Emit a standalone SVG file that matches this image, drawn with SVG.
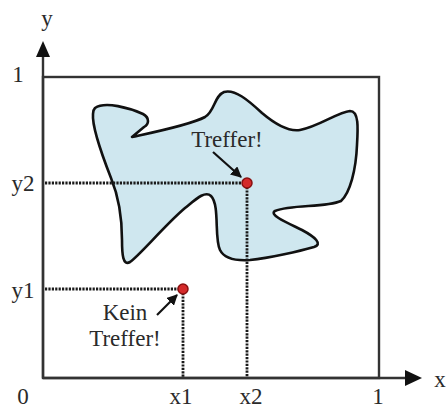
<svg xmlns="http://www.w3.org/2000/svg" width="446" height="410" viewBox="0 0 446 410">
<style>
text{font-family:'Times New Roman','Liberation Serif',serif;fill:#2a2a2a;font-size:23px}
.ax{stroke:#333;stroke-width:2.4;fill:none}
.dot{stroke:#1a1a1a;stroke-width:2.8;stroke-dasharray:2.2 1.2;fill:none}
.pt{fill:#d42a2a;stroke:#8a1010;stroke-width:1.5}
.ar{stroke:#111;stroke-width:2.2;fill:none}
</style>
<defs>
<marker id="ah" viewBox="0 0 10 10" refX="9" refY="5" markerWidth="5" markerHeight="5" orient="auto">
<path d="M0,0 L10,5 L0,10 Z" fill="#111"/>
</marker>
</defs>
<rect x="0" y="0" width="446" height="410" fill="#fff"/>
<g id="area">
<path d="M 95,108 C 105,101 130,108 143,114 C 150,118 149,124 144,127 L 132,137 C 155,132 190,125 205,117 C 215,111 214,96 224,92 C 235,89 248,100 262,113 C 275,124 288,132 300,130 C 318,127 338,112 350,111 C 359,111 358,128 357,145 C 356,170 350,193 341,201 C 325,208 292,204 275,211 C 268,215 290,224 302,230 C 315,237 323,244 314,247 C 300,251 270,258 250,260 C 235,261 224,258 220,250 C 214,238 220,205 211,196 C 205,190 195,200 185,208 C 165,225 140,255 130,262 C 123,266 122,255 122,240 C 122,215 118,195 111,178 C 102,155 92,125 93,114 C 93,110 94,109 95,108 Z" fill="#cfe7ef" stroke="#111" stroke-width="2.6" stroke-linejoin="round"/>
</g>
<g id="axes">
<rect x="43" y="77" width="336" height="301" class="ax"/>
<line x1="43" y1="378" x2="43" y2="56" class="ax"/>
<path d="M43,41 L50,57 L36,57 Z" fill="#111"/>
<line x1="43" y1="378" x2="406" y2="378" class="ax"/>
<path d="M422,378 L405,370 L405,386 Z" fill="#111"/>
</g>
<g id="connectors">
<line x1="45" y1="183" x2="243" y2="183" class="dot"/>
<line x1="247" y1="187" x2="247" y2="377" class="dot"/>
<line x1="45" y1="289" x2="179" y2="289" class="dot"/>
<line x1="183" y1="293" x2="183" y2="377" class="dot"/>
<line x1="213" y1="152" x2="241" y2="177" class="ar" marker-end="url(#ah)"/>
<line x1="157" y1="315" x2="177" y2="295" class="ar" marker-end="url(#ah)"/>
</g>
<g id="points">
<circle cx="247" cy="183" r="5" class="pt"/>
<circle cx="183" cy="289" r="5" class="pt"/>
</g>
<g id="labels">
<text x="47" y="26" text-anchor="middle">y</text>
<text x="440" y="387" text-anchor="middle">x</text>
<text x="18" y="82" text-anchor="middle">1</text>
<text x="23" y="191" text-anchor="middle">y2</text>
<text x="23" y="298" text-anchor="middle">y1</text>
<text x="23" y="404" text-anchor="middle">0</text>
<text x="181" y="404" text-anchor="middle">x1</text>
<text x="251" y="404" text-anchor="middle">x2</text>
<text x="378" y="404" text-anchor="middle">1</text>
<text x="227" y="147" text-anchor="middle">Treffer!</text>
<text x="125" y="320" text-anchor="middle">Kein</text>
<text x="125" y="346" text-anchor="middle">Treffer!</text>
</g>
</svg>
